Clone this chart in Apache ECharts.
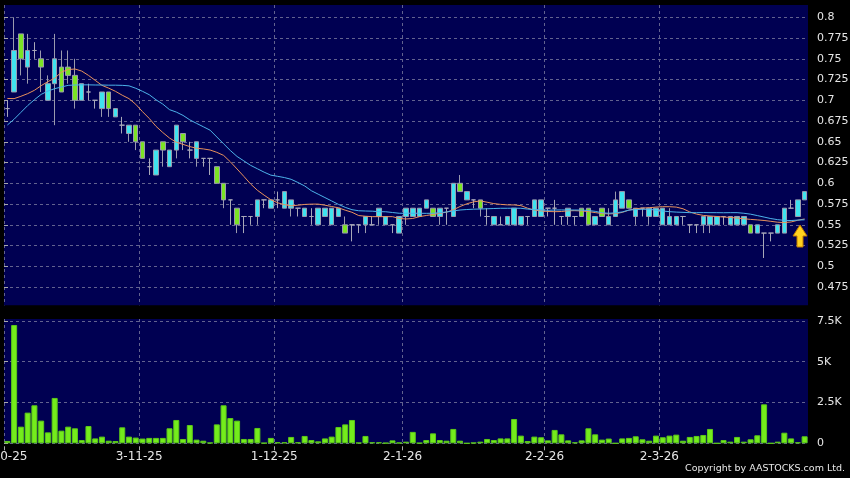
<!DOCTYPE html>
<html><head><meta charset="utf-8">
<script src="https://cdn.jsdelivr.net/npm/echarts@6/dist/echarts.min.js"></script>
<style>html,body{margin:0;padding:0;background:#000;}#c{width:850px;height:478px;}</style>
</head><body><div id="c"></div>
<script>
const dates = [
'2-10-25','3-10-25','6-10-25','8-10-25','9-10-25','10-10-25','13-10-25','14-10-25','15-10-25','16-10-25','17-10-25','20-10-25','21-10-25','22-10-25','23-10-25','24-10-25','27-10-25','28-10-25','30-10-25','31-10-25',
'3-11-25','4-11-25','5-11-25','6-11-25','7-11-25','10-11-25','11-11-25','12-11-25','13-11-25','14-11-25','17-11-25','18-11-25','19-11-25','20-11-25','21-11-25','24-11-25','25-11-25','26-11-25','27-11-25','28-11-25',
'1-12-25','2-12-25','3-12-25','4-12-25','5-12-25','8-12-25','9-12-25','10-12-25','11-12-25','12-12-25','15-12-25','16-12-25','17-12-25','18-12-25','19-12-25','22-12-25','23-12-25','29-12-25','30-12-25',
'2-1-26','5-1-26','6-1-26','7-1-26','8-1-26','9-1-26','12-1-26','13-1-26','14-1-26','15-1-26','16-1-26','19-1-26','20-1-26','21-1-26','22-1-26','23-1-26','26-1-26','27-1-26','28-1-26','29-1-26','30-1-26',
'2-2-26','3-2-26','4-2-26','5-2-26','6-2-26','9-2-26','10-2-26','11-2-26','12-2-26','13-2-26','16-2-26','20-2-26','23-2-26','24-2-26','25-2-26','26-2-26','27-2-26',
'2-3-26','3-3-26','4-3-26','5-3-26','6-3-26','9-3-26','10-3-26','11-3-26','12-3-26','13-3-26','16-3-26','17-3-26','18-3-26','19-3-26','20-3-26','23-3-26','24-3-26','25-3-26','26-3-26','27-3-26','30-3-26','31-3-26'
];
const monthLabels = ['2-10-25','3-11-25','1-12-25','2-1-26','2-2-26','2-3-26'];
const opens = [
.69,.71,.78,.74,.76,.75,.70,.72,.74,.74, .73,.70,.71,.70,.69,.71,.68,.67,.66,.67,
.65,.62,.61,.65,.62,.64,.66,.64,.63,.63, .63,.62,.60,.58,.57,.56,.56,.56,.58,.57,
.58,.57,.57,.57,.56,.56,.55,.56,.55,.56, .55,.55,.55,.55,.55,.56,.55,.55,.54,.56,
.56,.56,.57,.57,.56,.57,.56,.60,.58,.58, .58,.56,.55,.55,.55,.55,.55,.56,.56,.56,
.57,.57,.56,.56,.56,.57,.57,.55,.57,.55, .56,.57,.58,.56,.57,.56,.56,.55,.55,.55,
.56,.55,.55,.55,.55,.55,.56,.55,.55,.55, .55,.54,.54,.54,.54,.54,.57,.56,.58
];
const closes = [
.69,.76,.75,.76,.76,.74,.72,.75,.71,.73, .70,.72,.71,.70,.71,.69,.69,.67,.67,.65,
.63,.62,.64,.64,.64,.67,.65,.64,.65,.63, .63,.60,.58,.58,.55,.56,.56,.58,.58,.58,
.58,.59,.58,.57,.57,.56,.57,.57,.57,.57, .54,.55,.55,.56,.55,.57,.56,.55,.56,.57,
.57,.57,.58,.56,.57,.57,.60,.59,.59,.58, .57,.56,.56,.55,.56,.57,.56,.56,.58,.58,
.57,.57,.56,.57,.56,.56,.55,.56,.56,.56, .58,.59,.57,.57,.57,.57,.57,.57,.56,.56,
.56,.55,.55,.56,.56,.56,.56,.56,.56,.56, .54,.55,.54,.54,.55,.57,.57,.58,.59
];
const lows = [
.68,.71,.73,.72,.75,.71,.70,.67,.71,.72, .69,.70,.70,.69,.68,.68,.68,.66,.65,.64,
.63,.61,.61,.62,.62,.63,.64,.63,.62,.62, .61,.60,.57,.55,.54,.54,.55,.55,.57,.57,
.57,.57,.56,.56,.56,.55,.55,.56,.55,.56, .54,.53,.54,.54,.55,.55,.55,.54,.54,.55,
.56,.56,.57,.56,.55,.55,.56,.59,.58,.57, .56,.55,.55,.55,.55,.55,.55,.55,.56,.56,
.56,.55,.55,.55,.55,.56,.55,.55,.56,.55, .56,.57,.57,.55,.56,.55,.56,.55,.55,.55,
.55,.54,.54,.54,.54,.55,.55,.55,.55,.55, .54,.54,.51,.53,.54,.54,.57,.56,.58
];
const highs = [
.70,.80,.78,.78,.77,.76,.73,.78,.76,.76, .75,.72,.72,.70,.71,.71,.69,.68,.67,.67,
.65,.63,.64,.65,.64,.67,.66,.65,.65,.63, .63,.62,.60,.58,.57,.56,.56,.58,.58,.58,
.59,.59,.58,.57,.57,.57,.57,.57,.57,.57, .56,.55,.55,.56,.56,.57,.56,.55,.56,.57,
.57,.57,.58,.57,.57,.57,.60,.61,.59,.58, .58,.57,.56,.56,.56,.57,.56,.56,.58,.58,
.57,.58,.56,.57,.56,.57,.57,.56,.57,.57, .59,.59,.58,.57,.57,.57,.57,.57,.57,.56,
.56,.55,.55,.56,.56,.56,.56,.56,.56,.56, .55,.55,.54,.54,.55,.57,.58,.58,.59
];
const volumes = [
143,7250,1020,1880,2330,1390,670,2780,775,1020,
920,200,1060,300,410,160,140,980,410,350,
290,330,330,330,920,1430,265,1120,225,160,
40,1160,2330,1550,1390,265,265,940,20,330,
60,60,390,60,450,200,120,300,410,1000,
1160,1430,40,450,60,60,20,180,40,100,
700,20,200,610,200,160,880,160,0,40,
100,265,200,300,300,1490,470,140,410,370,
180,820,550,180,60,180,920,550,225,290,
0,300,330,430,245,160,470,370,470,530,
160,390,450,510,880,0,200,100,390,100,
245,490,2390,0,100,650,300,60,430
];
const maShort = [
.7022,.7020,.7048,.7080,.7120,.7176,.7225,.7266,.7339,.7370,
.7377,.7352,.7300,.7240,.7180,.7146,.7108,.7061,.7020,.6952,
.6863,.6781,.6686,.6612,.6545,.6495,.6469,.6442,.6422,.6414,
.6401,.6373,.6336,.6259,.6172,.6083,.5992,.5916,.5857,.5802,
.5765,.5743,.5728,.5736,.5745,.5749,.5749,.5736,.5720,.5705,
.5676,.5651,.5611,.5603,.5598,.5598,.5598,.5598,.5576,.5570,
.5576,.5598,.5612,.5624,.5639,.5652,.5681,.5720,.5753,.5776,
.5788,.5772,.5755,.5746,.5740,.5739,.5731,.5700,.5678,.5667,
.5660,.5658,.5660,.5669,.5670,.5667,.5659,.5647,.5636,.5631,
.5635,.5649,.5677,.5693,.5701,.5706,.5713,.5718,.5718,.5713,
.5693,.5655,.5629,.5613,.5606,.5600,.5593,.5589,.5581,.5573,
.5565,.5559,.5552,.5542,.5531,.5527,.5534,.5555,.5570
];
const maLong = [
.6702,.6772,.6854,.6936,.7007,.7071,.7111,.7140,.7160,.7180,
.7184,.7186,.7186,.7184,.7184,.7182,.7182,.7180,.7174,.7145,
.7108,.7067,.7006,.6954,.6887,.6858,.6818,.6764,.6722,.6681,
.6640,.6558,.6476,.6395,.6323,.6270,.6216,.6175,.6134,.6098,
.6084,.6069,.6048,.6010,.5968,.5910,.5869,.5828,.5787,.5746,
.5710,.5682,.5669,.5666,.5664,.5658,.5657,.5648,.5639,.5639,
.5639,.5639,.5638,.5639,.5646,.5654,.5667,.5678,.5684,.5688,
.5690,.5693,.5696,.5699,.5699,.5700,.5699,.5689,.5683,.5680,
.5674,.5678,.5679,.5678,.5678,.5677,.5672,.5662,.5645,.5639,
.5644,.5655,.5677,.5684,.5687,.5687,.5676,.5666,.5658,.5653,
.5650,.5646,.5646,.5647,.5646,.5646,.5645,.5646,.5646,.5639,
.5628,.5611,.5593,.5575,.5562,.5553,.5551,.5557,.5560
];
const priceTicks = [0.475,0.5,0.525,0.55,0.575,0.6,0.625,0.65,0.675,0.7,0.725,0.75,0.775,0.8];
const volTicks = [0,2500,5000,7500];

const chart = echarts.init(document.getElementById('c'), null, {renderer:'canvas'});
const candleData = dates.map((d,i)=>[opens[i], closes[i], lows[i], highs[i]]);
// month-start boundaries as band indices (band i spans [i, i+1])
const monthStarts = monthLabels.map(l => dates.indexOf(l));
const FONT = 'DejaVu Sans';
const gridLine = {color:'#62628f', type:[3,3], width:1};
const navy = '#000052';
const N = dates.length;

chart.setOption({
  backgroundColor:'#000000',
  animation:false,
  grid:[
    {left:4, top:5, width:804, height:300.3, show:true, backgroundColor:navy, borderWidth:0, containLabel:false, outerBoundsMode:'none'},
    {left:4, top:319, width:804, height:124.3, show:true, backgroundColor:navy, borderWidth:0, containLabel:false, outerBoundsMode:'none'}
  ],
  xAxis:[
    {type:'category', gridIndex:0, data:dates, boundaryGap:true,
     axisLine:{show:false}, axisTick:{show:false}, axisLabel:{show:false}, splitLine:{show:false}},
    {type:'category', gridIndex:1, data:dates, boundaryGap:true,
     axisLine:{show:false}, axisTick:{show:false}, axisLabel:{show:false}, splitLine:{show:false}},
    {type:'value', gridIndex:0, min:0, max:N,
     axisLine:{show:false},
     axisTick:{show:false, customValues:monthStarts},
     axisLabel:{show:false, customValues:monthStarts},
     splitLine:{show:true, lineStyle:gridLine}},
    {type:'value', gridIndex:1, min:0, max:N, offset:3, position:'bottom',
     axisLine:{show:false},
     axisTick:{show:true, customValues:monthStarts, length:4, lineStyle:{color:'#aaaaaa'}},
     axisLabel:{show:true, customValues:monthStarts, color:'#e6e6e6', fontFamily:FONT, fontSize:12, margin:5,
       formatter:(v)=> dates[Math.round(v)]},
     splitLine:{show:true, lineStyle:gridLine}}
  ],
  yAxis:[
    {type:'value', gridIndex:0, position:'right', min:0.4530, max:0.8148, offset:3,
     axisLine:{show:false},
     axisTick:{show:true, customValues:priceTicks, length:4, lineStyle:{color:'#aaaaaa'}},
     axisLabel:{customValues:priceTicks, color:'#e6e6e6', fontFamily:FONT, fontSize:11, margin:6},
     splitLine:{show:true, lineStyle:gridLine}},
    {type:'value', gridIndex:1, position:'right', min:0, max:7620, offset:3,
     axisLine:{show:false},
     axisTick:{show:true, customValues:volTicks, length:4, lineStyle:{color:'#aaaaaa'}},
     axisLabel:{customValues:volTicks, color:'#e6e6e6', fontFamily:FONT, fontSize:11, margin:6,
       formatter:(v)=> v===0 ? '0' : (v/1000)+'K'},
     splitLine:{show:true, lineStyle:gridLine}}
  ],
  series:[
    {type:'candlestick', xAxisIndex:0, yAxisIndex:0, data:candleData, barWidth:5,
     itemStyle:{color:'#3fe3ef', color0:'#7be424', borderColor:'#9a9aae', borderColor0:'#9a9aae', borderColorDoji:'#a8a8b8', borderWidth:1}},
    {type:'line', xAxisIndex:0, yAxisIndex:0, data:maShort, symbol:'none', z:3,
     lineStyle:{color:'#e8915c', width:1}},
    {type:'line', xAxisIndex:0, yAxisIndex:0, data:maLong, symbol:'none', z:3,
     lineStyle:{color:'#4db3ea', width:1}},
    {type:'bar', xAxisIndex:1, yAxisIndex:1, data:volumes, barWidth:6,
     itemStyle:{color:'#74ec1c', borderColor:'#5cc818', borderWidth:1}}
  ],
  graphic:[
    {type:'polygon', z:100,
     shape:{points:[[800,225],[807,236],[803,236],[803,247],[797,247],[797,236],[793,236]]},
     style:{fill:'#ffd21f', stroke:'#c07a00', lineWidth:1}},
    {type:'text', right:5, top:464, z:100,
     style:{text:'Copyright by AASTOCKS.com Ltd.', fill:'#e8e8e8', font:'9.5px "DejaVu Sans"'}}
  ]
});
</script></body></html>
